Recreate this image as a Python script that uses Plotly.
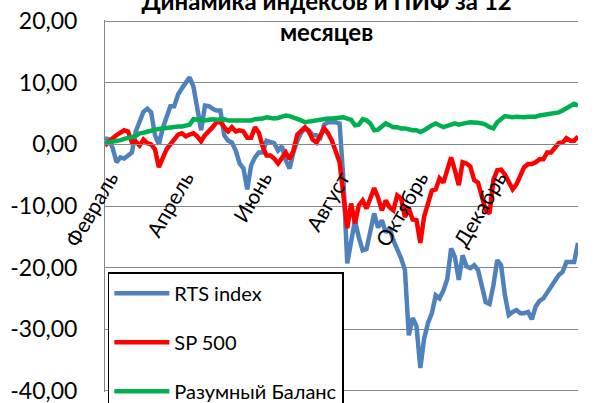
import plotly.graph_objects as go
import pandas as pd

# Values (% change), sampled every 3 days starting 2011-01-22
rts = [1.0, 0.8, -0.6, -2.9, -2.1, -2.3, -1.8, -1.3, 2.1, 3.9,
       5.3, 5.8, 5.2, 1.5, 0.0, 2.6, 4.4, 6.2, 6.2, 8.1,
       9.1, 10.0, 10.9, 9.4, 6.3, 2.3, 6.3, 6.2, 5.8, 5.5,
       5.5, 1.5, 0.6, 0.3, -1.0, -3.1, -3.9, -7.3, -3.4, -2.1,
       -1.3, -1.3, 0.6, 0.3, 0.2, -1.0, -0.3, -2.6, -3.9, -1.3,
       0.6, 1.9, 2.6, 2.3, 1.5, 1.5, 1.1, 3.2, 3.6, 3.6,
       3.6, 3.4, -5.8, -19.3, -15.6, -12.3, -15.1, -17.2, -17.0, -13.9,
       -11.2, -13.5, -12.3, -14.3, -13.6, -15.6, -16.9, -18.5, -20.4, -31.0,
       -28.2, -29.5, -36.3, -31.5, -29.0, -27.4, -24.5, -25.0, -23.7, -21.9,
       -16.9, -18.3, -22.0, -18.0, -19.8, -20.1, -19.6, -20.4, -23.0, -25.6,
       -25.9, -22.9, -18.8, -19.6, -24.5, -27.7, -27.2, -26.9, -27.4, -27.4,
       -27.2, -28.4, -26.3, -25.4, -25.0, -24.0, -23.3, -22.0, -21.2, -20.7,
       -19.1, -19.1, -19.1, -16.0]

sp500 = [-0.2, 0.5, 1.0, 1.5, 1.8, 2.3, 2.1, 0.3, 0.5, -0.2,
         0.8, 0.2, 0.0, -0.8, -3.7, -2.3, -0.8, 0.0, 0.8, 1.6,
         1.8, 1.3, 1.6, 1.8, 1.3, 0.5, 1.5, 2.1, 2.8, 3.6,
         3.6, 2.8, 2.1, 2.8, 2.1, 2.3, 2.1, 1.1, 1.1, 2.8,
         1.9, -0.3, -1.8, -1.8, -2.3, -3.1, -2.1, -1.3, -2.4, -1.0,
         1.6, 2.3, 2.8, 2.1, 0.8, 0.3, 1.5, 2.6, 1.8, 0.6,
         -1.1, -2.9, -8.3, -13.6, -9.6, -12.8, -9.9, -9.1, -10.4, -8.6,
         -7.1, -8.6, -10.7, -9.1, -10.2, -10.7, -8.3, -8.8, -11.8, -10.4,
         -12.2, -12.3, -16.0, -11.7, -9.7, -7.5, -7.3, -5.5, -6.2, -4.2,
         -2.1, -4.2, -6.6, -2.9, -3.1, -3.6, -5.8, -6.2, -8.8, -10.7,
         -11.2, -5.8, -4.2, -4.1, -4.9, -6.0, -7.3, -6.5, -5.2, -3.7,
         -3.2, -3.2, -2.9, -2.4, -2.4, -1.3, -1.3, -0.6, 0.2, 0.3,
         1.0, 0.6, 0.6, 1.3]

balance = [0.2, 0.3, 0.5, 0.6, 0.7, 0.9, 1.0, 1.2, 1.4, 1.8,
           1.9, 2.1, 2.3, 2.4, 2.5, 2.6, 2.7, 2.8, 2.8, 2.9,
           2.9, 3.1, 3.2, 4.1, 4.0, 3.9, 3.9, 4.0, 4.1, 4.0,
           4.1, 4.1, 3.9, 3.9, 3.9, 3.8, 3.9, 3.9, 3.9, 4.1,
           4.1, 4.2, 4.4, 4.3, 4.2, 4.3, 4.5, 4.7, 4.6, 4.4,
           4.2, 3.9, 3.6, 3.7, 3.9, 4.0, 4.1, 4.1, 4.2, 4.2,
           4.3, 4.4, 4.4, 4.2, 4.0, 3.1, 3.2, 4.1, 3.9, 3.4,
           2.3, 2.4, 2.9, 3.4, 3.1, 2.8, 2.8, 2.6, 2.6, 2.4,
           2.3, 2.3, 2.0, 2.3, 2.8, 3.1, 3.4, 3.1, 2.8, 3.0,
           3.3, 3.4, 3.2, 3.4, 3.5, 3.6, 3.6, 3.5, 3.4, 3.2,
           2.8, 2.6, 3.6, 4.2, 4.6, 4.5, 4.4, 4.5, 4.4, 4.4,
           4.5, 4.5, 4.5, 4.7, 4.8, 4.9, 5.0, 5.1, 5.2, 5.5,
           5.9, 6.3, 6.6, 6.3]

series_names = ["RTS index", "SP 500", "Разумный Баланс"]
series_colors = ["#4F81BD", "#FF0000", "#00B050"]

month_ticks = ["2011-02-01", "2011-04-01", "2011-06-01",
               "2011-08-01", "2011-10-01", "2011-12-01"]
month_labels = ["Февраль", "Апрель", "Июнь", "Август", "Октябрь", "Декабрь"]

y_ticks = [-40, -30, -20, -10, 0, 10, 20]
y_labels = ["-40,00", "-30,00", "-20,00", "-10,00", "0,00", "10,00", "20,00"]

dates = pd.date_range("2011-01-22", periods=len(rts), freq="3D")

fig = go.Figure()
for name, vals, color in zip(series_names, [rts, sp500, balance], series_colors):
    fig.add_trace(go.Scatter(x=dates, y=vals, mode="lines", name=name,
                             legendgroup=name,
                             line=dict(color=color, width=4.5)))

fig.update_layout(
    width=597, height=403,
    margin=dict(l=105, r=19, t=20, b=11, autoexpand=False),
    paper_bgcolor="white", plot_bgcolor="white",
    font=dict(family="Lato", color="black"),
    title=dict(text="<b>Динамика индексов и ПИФ за 12<br>месяцев</b>",
               x=0.547, xref="container", xanchor="center",
               y=0.976, yref="container", yanchor="middle",
               font=dict(size=24, color="black")),
    showlegend=True,
    legend=dict(x=0.006, y=0.322, xanchor="left", yanchor="top",
                bordercolor="black", borderwidth=1.5, bgcolor="white",
                font=dict(size=20), tracegroupgap=20, itemwidth=55),
)
fig.update_xaxes(range=[dates[0], dates[-1]], tickvals=month_ticks,
                 ticktext=month_labels, tickangle=-60,
                 anchor="free", position=40.2 / 60.4, automargin=False,
                 showline=True, linecolor="#868686", linewidth=1,
                 showgrid=False, zeroline=False,
                 ticks="outside", ticklen=12, tickcolor="rgba(0,0,0,0)",
                 ticklabelshift=-8,
                 tickfont=dict(size=21, color="black"))
fig.update_yaxes(range=[-40.2, 20.2], tickvals=y_ticks, ticktext=y_labels,
                 automargin=False, ticklabeloverflow="allow",
                 showgrid=True, gridcolor="#868686", gridwidth=1,
                 showline=True, linecolor="#868686", zeroline=False,
                 ticks="outside", ticklen=22, tickcolor="rgba(0,0,0,0)",
                 tickfont=dict(size=23, color="black"))

fig.write_html("out.html", config={"displayModeBar": False},
               post_script="document.body.style.margin='0';")
